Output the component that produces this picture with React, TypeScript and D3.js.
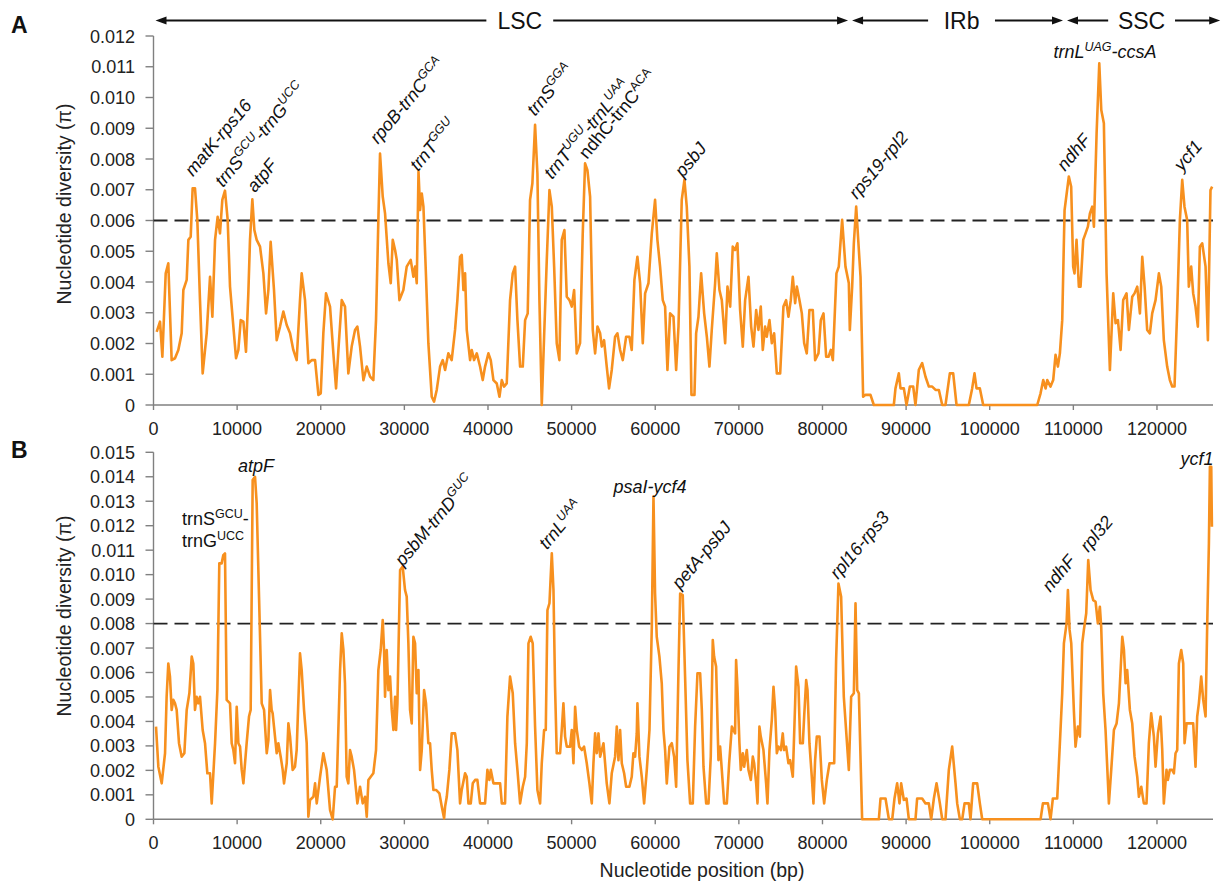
import React from "react";
import * as d3 from "d3";

// chloroplast regions (bp) drawn as arrows above panel A
const regionNames = ["LSC", "IRb", "SSC"];
const regionBounds = [0, 83300, 109000, 127800];

const xTicks = d3.range(0, 120001, 10000);

// sliding window nucleotide diversity: [position (kb), pi (x 10^-3)]
const diversityA: [number, number][] = [
  [0.38, 2.38], [0.78, 2.71], [1.06, 1.57], [1.46, 4.28], [1.77, 4.61], [2.17, 1.46], [2.57, 1.52], [2.97, 1.79],
  [3.37, 2.33], [3.57, 3.74], [3.97, 4.07], [4.17, 5.37], [4.45, 5.47], [4.68, 7.05], [4.96, 7.05], [5.24, 6.02],
  [5.56, 3.41], [5.88, 1.03], [6.36, 2.33], [6.76, 4.17], [7.04, 2.87], [7.36, 5.37], [7.67, 6.12], [7.95, 5.58],
  [8.23, 6.67], [8.55, 6.97], [8.87, 6.02], [9.15, 3.85], [9.55, 2.55], [9.87, 1.52], [10.15, 1.79], [10.43, 2.76],
  [10.75, 2.71], [11.06, 1.73], [11.34, 3.63], [11.54, 5.37], [11.82, 6.69], [12.06, 5.69], [12.34, 5.37], [12.74, 5.15],
  [13.14, 4.28], [13.46, 2.98], [13.74, 3.74], [14.01, 5.31], [14.41, 3.74], [14.73, 2.11], [15.13, 2.55], [15.53, 3.04],
  [15.93, 2.6], [16.33, 2.33], [16.72, 1.79], [17.12, 1.46], [17.52, 3.41], [17.72, 4.28], [18.12, 3.41], [18.52, 1.36],
  [18.92, 1.46], [19.32, 1.46], [19.72, 0.33], [20.0, 0.38], [20.31, 2.33], [20.63, 3.63], [21.11, 3.2], [21.51, 1.68],
  [21.83, 0.54], [22.11, 1.79], [22.51, 3.41], [22.9, 3.2], [23.3, 1.03], [23.7, 1.9], [24.1, 2.44], [24.38, 2.55],
  [24.7, 1.9], [25.1, 0.81], [25.5, 1.25], [25.9, 0.92], [26.29, 0.81], [26.61, 2.76], [26.89, 6.02], [27.09, 8.18],
  [27.41, 6.78], [27.69, 6.23], [28.09, 4.61], [28.37, 3.96], [28.61, 5.37], [28.89, 5.04], [29.09, 4.72], [29.41, 3.41],
  [29.88, 3.74], [30.28, 4.5], [30.76, 4.72], [31.08, 4.17], [31.28, 4.5], [31.48, 3.96], [31.69, 7.59], [31.88, 6.34],
  [32.08, 6.88], [32.28, 6.45], [32.59, 4.17], [32.87, 2.01], [33.27, 0.27], [33.55, 0.11], [33.87, 0.49], [34.27, 1.25],
  [34.59, 1.46], [34.87, 1.14], [35.26, 1.68], [35.66, 1.46], [36.06, 2.44], [36.34, 3.41], [36.66, 4.82], [36.86, 4.88],
  [37.06, 3.74], [37.26, 4.28], [37.46, 2.44], [37.86, 1.46], [38.06, 1.79], [38.34, 1.46], [38.66, 1.68], [39.05, 1.25],
  [39.37, 0.81], [39.65, 1.25], [40.05, 1.68], [40.33, 1.46], [40.65, 0.81], [41.05, 0.7], [41.37, 0.27], [41.65, 0.81],
  [41.92, 0.6], [42.24, 0.7], [42.64, 3.41], [42.96, 4.28], [43.24, 4.5], [43.52, 2.76], [43.84, 1.25], [44.16, 1.25],
  [44.44, 2.76], [44.75, 2.98], [45.03, 6.67], [45.31, 7.21], [45.63, 9.11], [45.91, 7.53], [46.15, 3.41], [46.43, 0],
  [46.71, 2.22], [47.03, 4.72], [47.35, 6.99], [47.63, 6.45], [47.91, 4.5], [48.22, 2.01], [48.54, 1.46], [48.82, 5.37],
  [49.14, 5.69], [49.42, 3.52], [49.74, 3.41], [50.02, 3.2], [50.3, 3.74], [50.61, 1.68], [51.01, 2.01], [51.33, 5.58],
  [51.61, 7.86], [51.89, 7.64], [52.21, 6.78], [52.53, 2.44], [52.81, 1.68], [53.09, 2.55], [53.41, 2.33], [53.61, 1.9],
  [53.88, 2.11], [54.2, 1.25], [54.48, 0.54], [54.8, 1.14], [55.2, 2.22], [55.48, 2.33], [55.8, 1.79], [56.12, 1.46],
  [56.52, 2.22], [56.91, 2.22], [57.19, 1.79], [57.51, 4.07], [57.87, 4.82], [58.19, 3.96], [58.51, 2.01], [58.79, 3.63],
  [59.19, 3.96], [59.59, 5.58], [59.98, 6.67], [60.26, 5.37], [60.58, 4.5], [60.9, 3.41], [61.18, 3.2], [61.46, 1.14],
  [61.78, 2.98], [62.18, 2.87], [62.5, 1.14], [62.78, 2.55], [63.17, 6.67], [63.49, 7.32], [63.77, 6.45], [64.09, 4.5],
  [64.33, 0.33], [64.69, 0.33], [64.89, 2.33], [65.17, 2.87], [65.49, 4.28], [65.85, 2.98], [66.17, 2.22], [66.48, 1.25],
  [66.76, 2.44], [67.16, 3.96], [67.36, 4.93], [67.68, 3.74], [67.96, 3.41], [68.36, 2.01], [68.64, 3.85], [68.96, 3.2],
  [69.27, 5.15], [69.55, 5.04], [69.83, 5.26], [70.15, 3.09], [70.47, 1.9], [70.75, 3.41], [71.15, 4.17], [71.47, 2.55],
  [71.75, 1.9], [72.07, 3.09], [72.34, 2.44], [72.62, 3.2], [72.86, 1.79], [73.14, 2.55], [73.34, 2.22], [73.66, 2.76],
  [73.94, 2.01], [74.22, 2.33], [74.54, 1.03], [74.94, 1.03], [75.33, 3.2], [75.65, 3.41], [75.93, 2.87], [76.21, 3.41],
  [76.45, 4.17], [76.73, 3.31], [76.93, 3.85], [77.25, 3.41], [77.53, 2.98], [77.81, 2.01], [78.12, 1.68], [78.44, 3.09],
  [78.84, 3.09], [79.12, 1.46], [79.52, 1.68], [79.8, 2.76], [80.12, 2.98], [80.44, 1.57], [80.72, 1.57], [81.0, 1.79],
  [81.24, 1.46], [81.67, 4.28], [81.95, 4.5], [82.35, 6.02], [82.75, 4.5], [83.15, 3.96], [83.27, 2.44], [83.55, 3.85],
  [83.75, 5.26], [84.03, 6.45], [84.35, 5.04], [84.55, 4.17], [84.86, 0.27], [85.14, 0.33], [85.74, 0.33], [86.14, 0],
  [88.53, 0], [88.73, 0.54], [89.13, 1.03], [89.33, 0.54], [89.73, 0.54], [90.05, 0], [90.45, 0.6], [90.85, 0.6],
  [91.12, 0], [91.52, 1.14], [91.92, 1.36], [92.32, 0.92], [92.72, 0.6], [93.12, 0.6], [93.52, 0.49], [93.92, 0.49],
  [94.32, 0], [94.71, 0], [95.23, 1.03], [95.63, 1.03], [96.03, 0], [97.5, 0], [97.9, 0.54], [98.18, 1.03],
  [98.42, 0.54], [98.82, 0.54], [99.22, 0], [105.68, 0], [106.08, 0.38], [106.4, 0.81], [106.68, 0.54], [106.88, 0.81],
  [107.27, 0.6], [107.59, 0.81], [107.87, 1.63], [108.15, 1.25], [108.39, 1.68], [108.67, 2.76], [108.95, 6.34], [109.46, 7.43],
  [109.74, 7.1], [109.98, 4.5], [110.14, 4.28], [110.38, 5.37], [110.66, 3.85], [110.86, 3.85], [111.18, 5.37], [111.46, 5.58],
  [111.74, 5.8], [111.98, 6.23], [112.26, 6.45], [112.46, 5.8], [112.78, 8.83], [113.1, 11.11], [113.34, 9.59], [113.65, 9.16],
  [113.97, 4.28], [114.37, 1.14], [114.77, 3.63], [115.05, 2.66], [115.33, 2.76], [115.65, 1.79], [115.96, 3.41], [116.36, 3.63],
  [116.64, 2.44], [117.04, 3.52], [117.32, 3.63], [117.64, 3.85], [117.96, 2.98], [118.24, 4.82], [118.52, 3.85], [118.83, 2.44],
  [119.15, 2.33], [119.43, 2.98], [119.83, 3.41], [120.23, 4.28], [120.51, 3.85], [120.82, 2.11], [121.22, 1.25], [121.54, 0.81],
  [121.82, 0.6], [122.1, 0.6], [122.42, 3.09], [122.74, 6.02], [123.02, 7.32], [123.29, 6.45], [123.61, 6.02], [123.81, 3.85],
  [124.09, 4.5], [124.33, 3.63], [124.61, 3.2], [124.89, 2.55], [125.13, 5.15], [125.41, 5.26], [125.81, 4.5], [126.09, 2.11],
  [126.4, 6.99], [126.6, 7.1],
];

const diversityB: [number, number][] = [
  [0.3, 3.79], [0.58, 2.15], [0.98, 1.47], [1.38, 2.7], [1.57, 5.01], [1.77, 6.37], [1.97, 5.83], [2.17, 4.47],
  [2.37, 4.88], [2.57, 4.74], [2.77, 4.47], [3.05, 3.11], [3.37, 2.56], [3.69, 2.7], [3.97, 4.47], [4.29, 5.15],
  [4.57, 6.65], [4.76, 6.37], [4.96, 4.47], [5.16, 5.01], [5.36, 4.74], [5.56, 5.01], [5.88, 3.65], [6.16, 3.11],
  [6.44, 1.88], [6.76, 1.88], [6.96, 0.65], [7.36, 3.11], [7.64, 5.28], [7.87, 10.46], [8.15, 10.46], [8.35, 10.8],
  [8.55, 10.87], [8.75, 4.88], [9.15, 4.74], [9.35, 3.11], [9.55, 2.83], [9.75, 2.29], [9.95, 4.6], [10.15, 3.11],
  [10.35, 2.97], [10.55, 2.02], [10.75, 1.47], [11.14, 3.11], [11.42, 4.2], [11.62, 4.47], [11.86, 13.87], [12.14, 14.0],
  [12.34, 12.91], [12.62, 9.1], [12.94, 4.74], [13.22, 4.47], [13.54, 2.7], [13.74, 3.24], [13.94, 5.28], [14.13, 4.47],
  [14.25, 4.33], [14.41, 3.79], [14.73, 2.7], [14.93, 3.11], [15.21, 2.56], [15.45, 2.02], [15.61, 1.47], [15.93, 2.29],
  [16.13, 3.92], [16.33, 3.38], [16.64, 2.02], [16.92, 2.15], [17.12, 2.83], [17.52, 6.78], [17.72, 6.1], [18.0, 4.47],
  [18.32, 3.11], [18.52, 0.11], [18.72, 0.79], [19.12, 0.92], [19.32, 1.47], [19.52, 0.65], [19.92, 1.74], [20.31, 2.7],
  [20.71, 2.02], [21.11, 0.38], [21.43, 0], [21.71, 1.33], [21.91, 1.33], [22.31, 6.1], [22.51, 7.6], [22.71, 6.92],
  [22.9, 5.56], [23.1, 1.74], [23.3, 1.47], [23.5, 2.83], [23.7, 2.56], [23.98, 2.02], [24.22, 1.2], [24.38, 0.65],
  [24.7, 1.33], [25.02, 0.65], [25.3, 0.92], [25.5, 0.11], [25.7, 1.61], [25.98, 1.74], [26.29, 1.88], [26.61, 2.83],
  [26.89, 6.1], [27.17, 6.92], [27.41, 8.14], [27.57, 6.92], [27.69, 5.01], [27.89, 6.92], [28.09, 5.28], [28.29, 5.83],
  [28.49, 4.47], [28.69, 3.65], [28.89, 5.01], [29.01, 3.65], [29.17, 4.74], [29.49, 10.19], [29.8, 10.33], [30.08, 9.37],
  [30.28, 9.1], [30.48, 7.19], [30.68, 4.47], [30.88, 3.92], [31.08, 7.46], [31.28, 7.19], [31.48, 5.15], [31.68, 6.1],
  [31.88, 2.02], [32.08, 2.83], [32.36, 5.28], [32.59, 4.74], [32.87, 3.11], [33.07, 3.11], [33.27, 2.02], [33.47, 1.2],
  [33.79, 1.2], [34.19, 1.06], [34.47, 0.52], [34.75, 0.04], [34.87, 0.52], [35.07, 0.92], [35.38, 2.02], [35.66, 3.51],
  [36.06, 3.51], [36.34, 2.83], [36.66, 0.65], [36.86, 1.2], [37.26, 1.88], [37.46, 1.74], [37.66, 0.65], [37.94, 0.65],
  [38.18, 1.47], [38.46, 1.61], [38.73, 1.61], [39.05, 0.65], [39.65, 0.65], [39.93, 2.02], [40.17, 1.61], [40.33, 2.02],
  [40.65, 1.47], [41.05, 1.47], [41.45, 1.47], [41.65, 0.65], [42.04, 0.65], [42.32, 4.2], [42.64, 5.83], [42.96, 5.15],
  [43.24, 3.11], [43.52, 2.02], [43.84, 0.65], [44.16, 1.33], [44.44, 1.74], [44.64, 3.11], [44.84, 7.19], [45.11, 7.46],
  [45.35, 7.19], [45.63, 3.79], [45.91, 1.2], [46.23, 0.65], [46.43, 2.29], [46.71, 3.65], [46.91, 3.65], [47.11, 8.55],
  [47.35, 8.83], [47.63, 10.87], [47.83, 9.37], [48.02, 5.42], [48.22, 2.7], [48.62, 2.7], [48.82, 3.65], [49.02, 4.74],
  [49.22, 3.38], [49.42, 2.97], [49.82, 2.97], [50.02, 3.65], [50.22, 2.29], [50.42, 4.6], [50.62, 3.65], [50.9, 2.97],
  [51.22, 2.83], [51.49, 2.97], [51.81, 2.29], [52.13, 1.47], [52.41, 0.65], [52.61, 2.29], [52.81, 3.51], [53.01, 2.7],
  [53.21, 3.51], [53.41, 2.56], [53.81, 3.11], [54.2, 1.47], [54.52, 0.65], [54.8, 1.88], [55.2, 2.56], [55.4, 3.79],
  [55.6, 2.42], [55.8, 3.65], [56.0, 2.29], [56.28, 1.88], [56.52, 1.33], [56.91, 1.33], [57.19, 1.74], [57.39, 2.7],
  [57.59, 2.56], [57.79, 3.51], [57.87, 4.74], [58.11, 2.56], [58.39, 1.74], [58.67, 0.65], [58.99, 2.02], [59.31, 3.65],
  [59.59, 7.87], [59.79, 13.19], [59.98, 9.23], [60.18, 7.46], [60.5, 6.65], [60.78, 5.56], [60.98, 3.65], [61.18, 2.83],
  [61.38, 1.47], [61.7, 2.97], [61.98, 3.11], [62.26, 2.56], [62.5, 1.33], [62.78, 6.1], [62.98, 9.23], [63.29, 9.16],
  [63.57, 5.83], [63.85, 2.42], [64.17, 0.65], [64.49, 0.65], [64.77, 3.79], [65.05, 5.97], [65.37, 5.97], [65.57, 4.47],
  [65.77, 2.15], [66.09, 0.65], [66.37, 0.65], [66.64, 2.56], [66.88, 7.33], [67.04, 6.65], [67.28, 6.24], [67.56, 2.42],
  [67.76, 2.97], [67.96, 2.02], [68.24, 0.65], [68.56, 0.65], [68.84, 2.29], [69.16, 3.79], [69.55, 3.51], [69.67, 6.51],
  [69.83, 5.42], [70.07, 3.11], [70.23, 2.02], [70.47, 2.7], [70.63, 2.15], [70.95, 2.83], [71.15, 2.02], [71.43, 1.61],
  [71.67, 2.56], [71.83, 2.29], [72.07, 1.47], [72.23, 0.65], [72.46, 3.79], [72.62, 3.38], [72.94, 2.83], [73.26, 1.47],
  [73.42, 0.65], [73.66, 2.83], [73.94, 4.06], [74.14, 5.42], [74.34, 4.47], [74.54, 2.7], [74.74, 2.97], [75.02, 2.83],
  [75.25, 3.51], [75.41, 2.83], [75.65, 2.97], [75.93, 2.29], [76.13, 2.42], [76.45, 1.74], [76.73, 4.74], [76.85, 6.24],
  [77.13, 5.42], [77.33, 3.11], [77.65, 3.11], [77.81, 4.2], [78.05, 5.69], [78.21, 5.28], [78.44, 3.11], [78.72, 1.74],
  [78.92, 0.65], [79.12, 2.42], [79.32, 3.38], [79.64, 3.38], [79.92, 1.61], [80.2, 0.65], [80.52, 1.61], [80.84, 2.29],
  [81.12, 2.29], [81.4, 2.29], [81.63, 6.51], [81.91, 9.64], [82.23, 9.1], [82.55, 5.01], [83.15, 2.02], [83.43, 5.01],
  [83.75, 5.15], [83.95, 8.83], [84.15, 5.28], [84.35, 5.15], [84.74, 0], [86.74, 0], [86.94, 0.85], [87.54, 0.85],
  [87.94, 0], [88.34, 0], [88.61, 0.85], [88.93, 1.47], [89.21, 0.65], [89.41, 1.47], [89.73, 0.79], [90.05, 0.85],
  [90.33, 0], [91.12, 0], [91.32, 0.85], [91.92, 0.85], [92.32, 0.65], [92.72, 0.65], [93.0, 0], [93.32, 0.85],
  [93.64, 1.47], [94.04, 0.65], [94.32, 0], [94.71, 0], [95.11, 2.02], [95.51, 2.97], [95.91, 1.47], [96.11, 0.65],
  [96.43, 0], [96.71, 0], [96.99, 0.65], [97.5, 0.65], [97.7, 0], [98.02, 1.47], [98.5, 1.47], [98.82, 0.65],
  [99.1, 0], [106.08, 0], [106.36, 0.65], [106.96, 0.65], [107.27, 0], [107.55, 0.85], [108.07, 0.85], [108.39, 3.11],
  [108.67, 5.15], [108.87, 7.19], [109.19, 8.01], [109.35, 9.37], [109.55, 7.74], [109.75, 7.19], [110.06, 4.47], [110.26, 2.97],
  [110.54, 3.79], [110.78, 3.38], [111.06, 7.19], [111.26, 7.74], [111.54, 8.42], [111.78, 10.6], [112.06, 9.37], [112.38, 8.96],
  [112.66, 8.89], [112.93, 8.01], [113.17, 8.69], [113.33, 7.87], [113.57, 5.15], [113.85, 3.65], [114.25, 0.65], [114.53, 2.02],
  [114.85, 3.65], [115.17, 3.92], [115.45, 4.74], [115.85, 7.46], [116.05, 6.92], [116.25, 5.56], [116.44, 6.1], [116.76, 4.47],
  [117.04, 3.92], [117.32, 2.56], [117.64, 1.74], [117.84, 0.92], [118.12, 1.33], [118.43, 0.65], [118.75, 0.65], [119.03, 3.11],
  [119.31, 4.33], [119.63, 3.38], [119.83, 2.15], [120.11, 3.51], [120.43, 4.2], [120.63, 2.83], [120.82, 0.65], [121.14, 2.02],
  [121.3, 1.61], [121.54, 2.02], [121.82, 2.02], [122.02, 1.88], [122.22, 2.7], [122.42, 2.83], [122.62, 6.37], [122.9, 6.92],
  [123.14, 6.37], [123.3, 3.11], [123.54, 3.92], [124.33, 3.92], [124.61, 2.15], [124.81, 4.2], [125.01, 4.74], [125.29, 5.83],
  [125.53, 4.88], [125.81, 4.2], [126.01, 8.01], [126.21, 11.28], [126.33, 14.41], [126.49, 14.41], [126.57, 11.96],
];

// highly variable regions; ^{...} marks a superscript, \n a line break
type Hotspot = { text: string; kb: number; pi: number; flat?: boolean; upright?: boolean };

const hotspotsA: Hotspot[] = [
  { text: "matK-rps16", kb: 4.72, pi: 7.41 },
  { text: "trnS^{GCU}-trnG^{UCC}", kb: 8.31, pi: 7.06 },
  { text: "atpF", kb: 12.14, pi: 6.89 },
  { text: "rpoB-trnC^{GCA}", kb: 26.85, pi: 8.46 },
  { text: "trnT^{GGU}", kb: 31.63, pi: 7.58 },
  { text: "trnS^{GGA}", kb: 45.63, pi: 9.37 },
  { text: "trnT^{UGU}-trnL^{UAA}", kb: 47.66, pi: 7.32 },
  { text: "ndhC-trnC^{ACA}", kb: 51.85, pi: 7.97, upright: true },
  { text: "psbJ", kb: 63.33, pi: 7.38 },
  { text: "rps19-rpl2", kb: 84.14, pi: 6.67 },
  { text: "ndhF", kb: 109.01, pi: 7.58 },
  { text: "ycf1", kb: 122.99, pi: 7.58 },
  { text: "trnL^{UAG}-ccsA", kb: 113.78, pi: 11.28, flat: true },
];

const hotspotsB: Hotspot[] = [
  { text: "trnS^{GCU}-\ntrnG^{UCC}", kb: 3.41, pi: 12.03, flat: true, upright: true },
  { text: "atpF", kb: 12.26, pi: 14.19, flat: true },
  { text: "psbM-trnD^{GUC}", kb: 29.84, pi: 10.31 },
  { text: "trnL^{UAA}", kb: 47.07, pi: 11.0 },
  { text: "psaI-ycf4", kb: 59.38, pi: 13.33, flat: true },
  { text: "petA-psbJ", kb: 62.97, pi: 9.37 },
  { text: "rpl16-rps3", kb: 81.87, pi: 9.78 },
  { text: "ndhF", kb: 107.23, pi: 9.25 },
  { text: "rpl32", kb: 111.77, pi: 10.88 },
  { text: "ycf1", kb: 124.8, pi: 14.48, flat: true },
];

const FONT = "'Liberation Sans', Arial, Helvetica, sans-serif";
const ORANGE = "#f7901e";
const AXIS = "#808080";

const x = d3.scaleLinear().domain([0, 126700]).range([153.5, 1213]);

function splitSup(s: string) {
  const parts: { t: string; sup: boolean }[] = [];
  const re = /\^\{([^}]*)\}/g;
  let last = 0;
  let m;
  while ((m = re.exec(s))) {
    if (m.index > last) parts.push({ t: s.slice(last, m.index), sup: false });
    parts.push({ t: m[1], sup: true });
    last = re.lastIndex;
  }
  if (last < s.length) parts.push({ t: s.slice(last), sup: false });
  return parts;
}

function GeneLabel({ h, px, py }: { h: Hotspot; px: number; py: number }) {
  const lines = h.text.split("\n");
  return (
    <g transform={h.flat ? `translate(${px},${py})` : `translate(${px},${py}) rotate(-50)`}>
      {lines.map((ln, li) => {
        let up = false;
        return (
          <text
            key={li}
            y={li * 22}
            fontSize={18}
            fontStyle={h.upright ? "normal" : "italic"}
            textAnchor={h.flat && !h.upright ? "middle" : "start"}
            fill="#111"
          >
            {splitSup(ln).map((p, i) => {
              const dy = p.sup ? (up ? 0 : -7) : up ? 7 : 0;
              up = p.sup;
              return (
                <tspan key={i} dy={dy} fontSize={p.sup ? 12.5 : 18}>
                  {p.t}
                </tspan>
              );
            })}
          </text>
        );
      })}
    </g>
  );
}

function Panel({
  data, yMax, top, bottom, cutoff, hotspots, letter, letterY, titleY,
}: {
  data: [number, number][]; yMax: number; top: number; bottom: number; cutoff: number;
  hotspots: Hotspot[]; letter: string; letterY: number; titleY: number;
}) {
  const y = d3.scaleLinear().domain([0, yMax]).range([bottom, top]);
  const line = d3.line<[number, number]>().x((d) => x(d[0] * 1000)).y((d) => y(d[1] / 1000));
  const yTicks = d3.range(0, Math.round(yMax * 1000) + 1).map((k) => k / 1000);
  const [x0, x1] = x.range();

  return (
    <g>
      <text x={11} y={letterY} fontSize={23} fontWeight="bold" fill="#111">{letter}</text>
      <text
        transform={`translate(71,${titleY}) rotate(-90)`}
        textAnchor="middle"
        fontSize={19.5}
        fill="#222"
      >
        Nucleotide diversity (π)
      </text>

      {/* y axis */}
      <line x1={x0} x2={x0} y1={top} y2={bottom} stroke={AXIS} strokeWidth={1.4} />
      {yTicks.map((t) => (
        <g key={t}>
          <line x1={x0 - 8} x2={x0} y1={y(t)} y2={y(t)} stroke={AXIS} strokeWidth={1.4} />
          <text x={135} y={y(t) + 6.5} textAnchor="end" fontSize={18} fill="#222">
            {t === 0 ? "0" : t.toFixed(3)}
          </text>
        </g>
      ))}

      {/* x axis */}
      <line x1={x0} x2={x1} y1={bottom} y2={bottom} stroke={AXIS} strokeWidth={1.4} />
      {xTicks.map((t) => (
        <g key={t}>
          <line x1={x(t)} x2={x(t)} y1={bottom} y2={bottom + 5} stroke={AXIS} strokeWidth={1.4} />
          <text x={x(t)} y={bottom + 30} textAnchor="middle" fontSize={18} fill="#222">{t}</text>
        </g>
      ))}

      <line
        x1={x0} x2={x1} y1={y(cutoff)} y2={y(cutoff)}
        stroke="#222" strokeWidth={1.8} strokeDasharray="14 7"
      />

      <path d={line(data) ?? ""} fill="none" stroke={ORANGE} strokeWidth={2.6} strokeLinejoin="round" />

      {hotspots.map((h) => (
        <GeneLabel key={h.text} h={h} px={x(h.kb * 1000)} py={y(h.pi / 1000)} />
      ))}
    </g>
  );
}

function Regions() {
  const ay = 20.5;
  const nudge: Record<string, number> = { LSC: 18, IRb: 4, SSC: -2 };
  return (
    <g>
      {regionNames.map((name, i) => {
        const a = x(regionBounds[i]) + 2;
        const b = x(regionBounds[i + 1]) - 2;
        const mid = (a + b) / 2 + (nudge[name] || 0);
        const half = name.length * 0.65 * 23 * 0.5 + 11;
        return (
          <g key={name}>
            <line x1={a + 8} x2={mid - half} y1={ay} y2={ay} stroke="#111" strokeWidth={2} />
            <line x1={mid + half} x2={b - 8} y1={ay} y2={ay} stroke="#111" strokeWidth={2} />
            <path d={`M${a},${ay} L${a + 11},${ay - 4} L${a + 11},${ay + 4} Z`} fill="#111" />
            <path d={`M${b},${ay} L${b - 11},${ay - 4} L${b - 11},${ay + 4} Z`} fill="#111" />
            <text x={mid} y={ay + 8.5} textAnchor="middle" fontSize={23} fill="#111">{name}</text>
          </g>
        );
      })}
    </g>
  );
}

export default function App() {
  return (
    <svg
      width={1230}
      height={883}
      style={{ position: "absolute", left: 0, top: 0, background: "#fff" }}
      fontFamily={FONT}
    >
      <Regions />
      <Panel
        data={diversityA} yMax={0.012} top={36} bottom={405} cutoff={0.006}
        hotspots={hotspotsA} letter="A" letterY={33} titleY={204}
      />
      <Panel
        data={diversityB} yMax={0.015} top={452.3} bottom={819.3} cutoff={0.008}
        hotspots={hotspotsB} letter="B" letterY={458} titleY={616}
      />
      <text x={702} y={877} textAnchor="middle" fontSize={19.5} fill="#222">
        Nucleotide position (bp)
      </text>
    </svg>
  );
}
